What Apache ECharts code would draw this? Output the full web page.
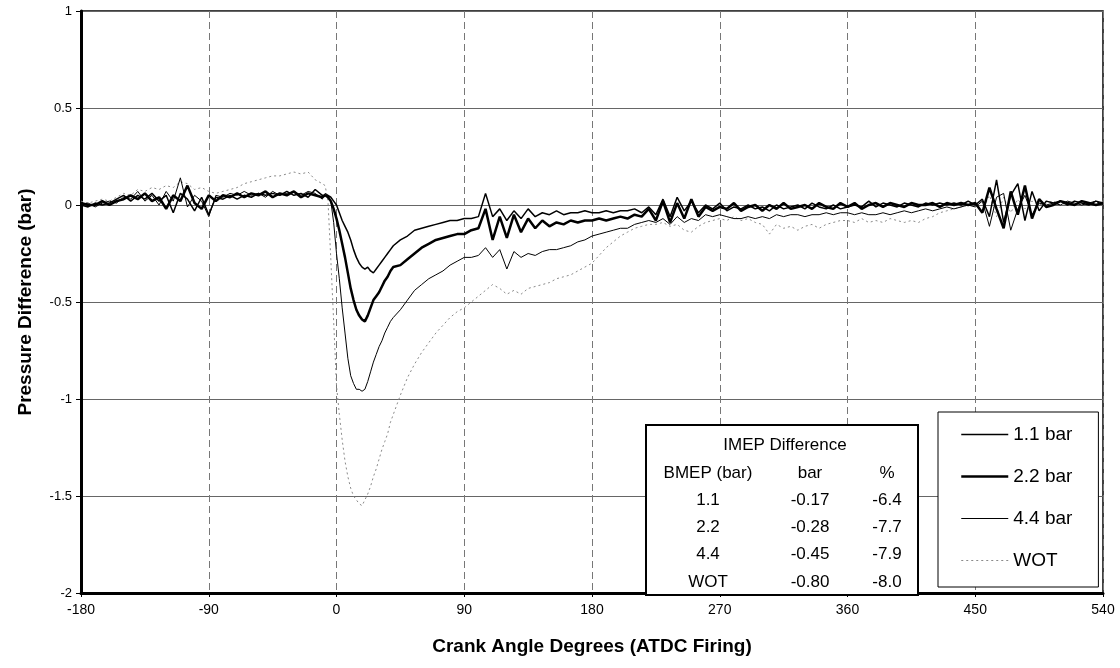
<!DOCTYPE html>
<html><head><meta charset="utf-8">
<script src="https://cdn.jsdelivr.net/npm/echarts@6/dist/echarts.min.js"></script>
<style>html,body{margin:0;padding:0;background:#fff}#c{width:1120px;height:668px}</style>
</head><body><div id="c"></div>
<script>
// Crank angle samples (deg ATDC firing)
const angles = [
  -180,-175,-170,-165,-160,-155,-150,-145,-140,-135,-130,-125,-120,-115,-110,-105,-100,-95,-90,-85,-80,-75,-70,-65,-60,-55,-50,-45,-40,-35,-30,-25,-20,-15,-10,
  -8,-6,-4,-2,0,2,4,6,8,10,12,14,16,18,20,22,24,26,28,30,32,34,36,38,40,
  45,50,55,60,65,70,75,80,85,90,
  95,100,105,110,115,120,125,130,135,140,
  145,150,155,160,165,170,175,180,185,190,
  195,200,205,210,215,220,225,230,235,240,
  245,250,255,260,265,270,275,280,285,290,
  295,300,305,310,315,320,325,330,335,340,
  345,350,355,360,365,370,375,380,385,390,
  395,400,405,410,415,420,425,430,435,440,
  445,450,455,460,465,470,475,480,485,490,
  495,500,505,510,515,520,525,530,535,540
];
// Pressure difference (bar), BMEP 1.1 bar
const p11 = [
  0.00,-0.01,0.01,0.00,0.01,0.03,0.05,0.02,0.05,0.03,0.06,0.02,0.05,-0.04,0.06,0.03,-0.03,0.04,-0.05,0.04,0.03,0.05,0.03,0.05,0.04,0.06,0.05,0.06,0.05,0.07,0.05,0.06,0.04,0.08,0.05,
  0.05,0.05,0.04,0.02,0.00,-0.04,-0.08,-0.11,-0.14,-0.18,-0.23,-0.27,-0.30,-0.32,-0.33,-0.32,-0.34,-0.35,-0.33,-0.31,-0.29,-0.27,-0.25,-0.23,-0.21,
  -0.18,-0.16,-0.13,-0.12,-0.11,-0.10,-0.09,-0.08,-0.08,-0.07,
  -0.07,-0.06,0.06,-0.06,-0.02,-0.08,-0.03,-0.07,-0.02,-0.06,
  -0.04,-0.05,-0.03,-0.05,-0.04,-0.04,-0.03,-0.04,-0.04,-0.03,
  -0.04,-0.03,-0.03,-0.02,-0.04,-0.01,-0.05,0.03,-0.06,0.04,
  -0.03,0.02,-0.04,0.00,-0.02,0.01,-0.03,-0.01,-0.02,0.00,
  -0.02,-0.01,-0.03,0.00,-0.02,-0.01,0.00,-0.02,0.01,-0.01,
  -0.02,0.00,-0.02,-0.01,0.00,-0.01,0.02,-0.01,0.01,0.00,
  -0.01,0.01,0.00,-0.01,0.01,0.00,0.01,0.00,0.01,0.00,
  0.02,0.00,0.03,-0.06,0.13,-0.09,0.05,0.11,-0.08,0.07,
  -0.03,0.02,0.01,0.02,0.00,0.02,0.01,0.00,0.02,0.01
];
// BMEP 2.2 bar
const p22 = [
  0.01,0.00,0.00,0.02,0.00,0.02,0.03,0.05,0.03,0.06,0.02,0.04,-0.02,0.05,0.02,0.10,0.01,-0.02,0.05,0.02,0.05,0.04,0.06,0.04,0.06,0.05,0.07,0.04,0.06,0.05,0.07,0.04,0.06,0.05,0.04,
  0.05,0.04,0.02,-0.02,-0.07,-0.13,-0.20,-0.27,-0.35,-0.43,-0.49,-0.54,-0.57,-0.59,-0.60,-0.57,-0.53,-0.49,-0.47,-0.45,-0.42,-0.39,-0.37,-0.34,-0.32,
  -0.31,-0.28,-0.25,-0.22,-0.20,-0.18,-0.17,-0.16,-0.15,-0.15,
  -0.13,-0.12,-0.02,-0.18,-0.06,-0.17,-0.05,-0.14,-0.07,-0.12,
  -0.08,-0.11,-0.09,-0.10,-0.08,-0.09,-0.08,-0.08,-0.07,-0.08,
  -0.07,-0.06,-0.07,-0.05,-0.06,-0.02,-0.08,0.02,-0.09,0.01,
  -0.07,0.03,-0.06,-0.01,-0.03,-0.01,-0.02,0.01,-0.03,-0.01,
  0.00,-0.03,0.00,-0.02,0.01,-0.02,-0.01,0.00,-0.02,0.01,
  -0.01,-0.02,0.01,-0.01,0.01,-0.02,0.00,0.01,-0.01,0.01,
  0.00,-0.01,0.01,0.00,0.00,0.01,-0.01,0.01,0.00,0.01,
  0.00,0.01,-0.04,0.09,-0.02,-0.12,0.07,-0.05,0.10,-0.07,
  0.03,-0.01,0.00,0.02,0.01,0.00,0.02,0.01,0.00,0.01
];
// BMEP 4.4 bar
const p44 = [
  0.00,0.01,-0.01,0.01,0.02,0.01,0.04,0.03,0.07,0.02,0.05,0.00,0.07,0.02,0.14,-0.01,0.05,0.02,-0.06,0.05,0.04,0.06,0.05,0.07,0.05,0.06,0.04,0.07,0.05,0.06,0.07,0.05,0.07,0.06,0.03,
  0.06,0.05,0.02,-0.09,-0.25,-0.38,-0.53,-0.66,-0.79,-0.88,-0.92,-0.95,-0.95,-0.96,-0.95,-0.91,-0.86,-0.81,-0.77,-0.73,-0.70,-0.66,-0.63,-0.60,-0.58,
  -0.54,-0.49,-0.44,-0.41,-0.38,-0.36,-0.34,-0.31,-0.29,-0.27,
  -0.27,-0.26,-0.22,-0.27,-0.23,-0.33,-0.24,-0.27,-0.25,-0.26,
  -0.24,-0.23,-0.23,-0.22,-0.21,-0.19,-0.18,-0.16,-0.15,-0.14,
  -0.13,-0.12,-0.12,-0.10,-0.09,-0.08,-0.09,-0.07,-0.10,-0.06,
  -0.09,-0.07,-0.08,-0.05,-0.06,-0.05,-0.06,-0.07,-0.07,-0.06,
  -0.07,-0.06,-0.07,-0.05,-0.06,-0.05,-0.05,-0.06,-0.05,-0.05,
  -0.04,-0.05,-0.04,-0.04,-0.05,-0.04,-0.05,-0.05,-0.04,-0.05,
  -0.04,-0.03,-0.04,-0.03,-0.02,-0.03,-0.02,-0.01,-0.02,-0.01,
  0.00,-0.01,0.02,-0.11,0.04,0.06,-0.13,-0.02,0.05,-0.05,
  0.01,0.00,0.01,0.00,0.02,0.01,0.00,0.01,0.02,0.00
];
// WOT
const pWOT = [
  0.02,0.01,0.02,0.03,0.02,0.04,0.06,0.05,0.08,0.07,0.09,0.08,0.10,0.09,0.12,0.11,0.08,0.09,0.07,0.06,0.07,0.08,0.09,0.11,0.12,0.13,0.14,0.15,0.15,0.16,0.17,0.16,0.17,0.13,0.11,
  0.10,0.02,-0.28,-0.60,-0.93,-1.08,-1.21,-1.32,-1.40,-1.46,-1.50,-1.52,-1.54,-1.55,-1.52,-1.49,-1.45,-1.40,-1.36,-1.31,-1.26,-1.22,-1.18,-1.12,-1.08,
  -0.98,-0.89,-0.82,-0.76,-0.71,-0.66,-0.62,-0.58,-0.55,-0.53,
  -0.50,-0.47,-0.44,-0.41,-0.43,-0.46,-0.44,-0.46,-0.43,-0.42,
  -0.41,-0.40,-0.38,-0.37,-0.36,-0.34,-0.32,-0.30,-0.26,-0.22,
  -0.19,-0.16,-0.14,-0.12,-0.11,-0.10,-0.10,-0.09,-0.11,-0.10,
  -0.13,-0.14,-0.11,-0.09,-0.08,-0.07,-0.08,-0.06,-0.08,-0.07,
  -0.09,-0.10,-0.15,-0.10,-0.12,-0.11,-0.13,-0.11,-0.10,-0.12,
  -0.10,-0.09,-0.08,-0.08,-0.09,-0.07,-0.09,-0.08,-0.09,-0.07,
  -0.08,-0.09,-0.08,-0.09,-0.07,-0.06,-0.04,-0.03,-0.02,-0.01,
  0.00,0.01,-0.03,0.05,-0.06,0.04,-0.04,0.03,-0.02,0.02,
  0.00,0.01,0.02,0.00,0.01,0.02,0.01,0.00,0.01,0.02
];
const seriesNames = ['1.1 bar','2.2 bar','4.4 bar','WOT'];
// IMEP difference table
const tableTitle = 'IMEP Difference';
const tableHeader = ['BMEP (bar)','bar','%'];
const bmepLabels = ['1.1','2.2','4.4','WOT'];
const imepBar = ['-0.17','-0.28','-0.45','-0.80'];
const imepPct = ['-6.4','-7.7','-7.9','-8.0'];

const FONT = '"Liberation Sans", Arial, sans-serif';
const toData = arr => angles.map((a, i) => [a, arr[i]]);

const lineStyles = {
  '1.1 bar': {color:'#000', width:1.5},
  '2.2 bar': {color:'#000', width:2.5},
  '4.4 bar': {color:'#000', width:1},
  'WOT': {color:'#8a8a8a', width:1, type:[2,3]}
};

const colX = [708, 810, 887];
const rowY = [500, 527, 554, 582];
const TFONT = '17px ' + FONT;
const tableEls = [
  {type:'rect', shape:{x:646, y:425, width:272, height:170}, style:{fill:'#fff', stroke:'#000', lineWidth:2}, z:100},
  {type:'text', x:785, y:445, style:{text:tableTitle, font:TFONT, fill:'#000', align:'center', verticalAlign:'middle'}, z:101}
];
tableHeader.forEach((h, j) => tableEls.push({type:'text', x:colX[j], y:473, style:{text:h, font:TFONT, fill:'#000', align:'center', verticalAlign:'middle'}, z:101}));
bmepLabels.forEach((b, i) => {
  [b, imepBar[i], imepPct[i]].forEach((t, j) => tableEls.push({type:'text', x:colX[j], y:rowY[i], style:{text:t, font:TFONT, fill:'#000', align:'center', verticalAlign:'middle'}, z:101}));
});

const chart = echarts.init(document.getElementById('c'), null, {renderer:'canvas'});
chart.setOption({
  animation:false,
  backgroundColor:'#fff',
  textStyle:{fontFamily:FONT, color:'#000'},
  grid:{left:81, right:17, top:11, bottom:75, show:true, borderColor:'#000', borderWidth:1.5, backgroundColor:'transparent'},
  xAxis:{
    type:'value', min:-180, max:540, interval:90,
    name:'Crank Angle Degrees (ATDC Firing)', nameLocation:'middle', nameGap:44,
    nameTextStyle:{fontFamily:FONT, fontSize:19, fontWeight:'bold', color:'#000'},
    axisLine:{show:true, onZero:false, lineStyle:{color:'#000', width:3}},
    axisTick:{show:true, length:4, lineStyle:{color:'#000'}},
    axisLabel:{fontFamily:'"Liberation Sans Narrow", "Liberation Sans", Arial', fontSize:14, color:'#000', margin:10},
    splitLine:{show:true, lineStyle:{color:'#777', width:1, type:[7,4]}}
  },
  yAxis:{
    type:'value', min:-2, max:1, interval:0.5,
    name:'Pressure Difference (bar)', nameLocation:'middle', nameGap:46,
    nameTextStyle:{fontFamily:FONT, fontSize:19, fontWeight:'bold', color:'#000'},
    axisLine:{show:true, onZero:false, lineStyle:{color:'#000', width:3}},
    axisTick:{show:true, length:5, lineStyle:{color:'#000'}},
    axisLabel:{fontFamily:FONT, fontSize:13, color:'#000', margin:9},
    splitLine:{show:true, lineStyle:{color:'#666', width:1}}
  },
  legend:{
    data:seriesNames.map(n => ({name:n, lineStyle:lineStyles[n], itemStyle:{opacity:0}})),
    orient:'vertical', left:938, top:412,
    padding:[13,26,17,22], itemGap:23, itemWidth:47, itemHeight:14,
    backgroundColor:'#fff', borderColor:'#000', borderWidth:1,
    itemStyle:{opacity:0},
    textStyle:{fontFamily:FONT, fontSize:19, color:'#000', lineHeight:19},
    z:50
  },
  graphic:{elements:tableEls},
  series:[
    {name:'WOT', type:'line', data:toData(pWOT), showSymbol:false, symbol:'none', z:2,
      lineStyle:lineStyles['WOT'], itemStyle:{color:'#8a8a8a'}},
    {name:'4.4 bar', type:'line', data:toData(p44), showSymbol:false, symbol:'none', z:3,
      lineStyle:lineStyles['4.4 bar'], itemStyle:{color:'#000'}},
    {name:'2.2 bar', type:'line', data:toData(p22), showSymbol:false, symbol:'none', z:4,
      lineStyle:lineStyles['2.2 bar'], itemStyle:{color:'#000'}},
    {name:'1.1 bar', type:'line', data:toData(p11), showSymbol:false, symbol:'none', z:5,
      lineStyle:lineStyles['1.1 bar'], itemStyle:{color:'#000'}}
  ]
});
</script>
</body></html>
